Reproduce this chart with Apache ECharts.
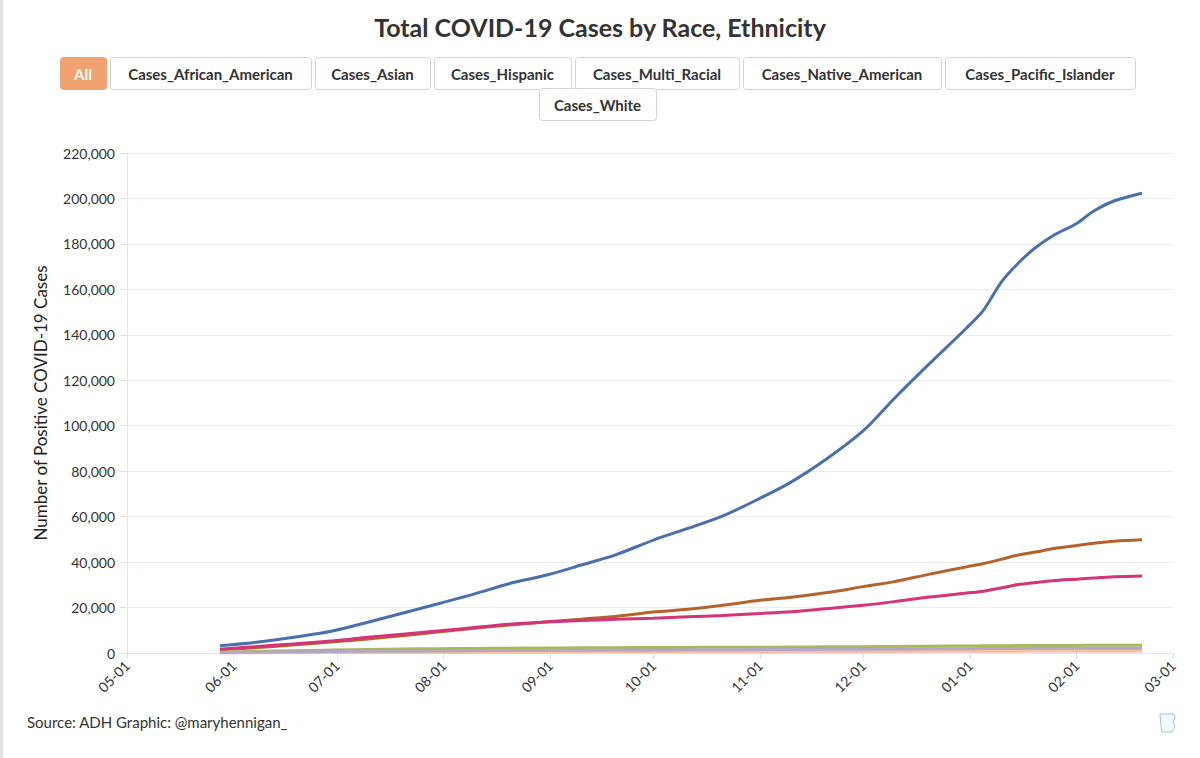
<!DOCTYPE html>
<html>
<head>
<meta charset="utf-8">
<script src="https://cdn.jsdelivr.net/npm/echarts@6/dist/echarts.min.js"></script>
<style>
  html, body { margin: 0; padding: 0; background: #fff; }
  #chart { width: 1200px; height: 758px; }
</style>
</head>
<body>
<div id="chart"></div>
<script>
// dates the values were read at
var dates = ['2020-05-28', '2020-06-07', '2020-06-18', '2020-06-30', '2020-07-10', '2020-07-20', '2020-07-31',
  '2020-08-10', '2020-08-20', '2020-08-31', '2020-09-10', '2020-09-20', '2020-10-01', '2020-10-11',
  '2020-10-21', '2020-11-01', '2020-11-10', '2020-11-20', '2020-12-01', '2020-12-10', '2020-12-20',
  '2020-12-31', '2021-01-05', '2021-01-10', '2021-01-15', '2021-01-20', '2021-01-25', '2021-02-01',
  '2021-02-06', '2021-02-12', '2021-02-20'];

var categories = ['Cases_African_American', 'Cases_Asian', 'Cases_Hispanic', 'Cases_Multi_Racial',
  'Cases_Native_American', 'Cases_Pacific_Islander', 'Cases_White'];

var africanAmerican = [1400, 2300, 3500, 4900, 6200, 7600, 9300, 10900, 12300, 13700, 14900, 16100, 18000, 19200,
  21000, 23200, 24500, 26500, 29200, 31400, 34600, 37900, 39400, 41200, 43100, 44400, 45900, 47300, 48300, 49200, 49800];
var asian = [400, 700, 1000, 1300, 1550, 1750, 1900, 2000, 2100, 2200, 2300, 2350, 2400, 2450,
  2500, 2550, 2600, 2700, 2800, 2900, 3000, 3100, 3150, 3200, 3250, 3300, 3320, 3350, 3370, 3390, 3400];
var hispanic = [1700, 2800, 4000, 5400, 6900, 8300, 9800, 11200, 12600, 13600, 14300, 14800, 15300, 15900,
  16500, 17400, 18200, 19500, 21000, 22600, 24600, 26400, 27200, 28600, 30100, 31000, 31800, 32500, 33000, 33500, 33900];
var multiRacial = [50, 100, 150, 200, 250, 300, 350, 400, 430, 460, 490, 510, 530, 550,
  570, 590, 610, 640, 670, 700, 730, 760, 780, 800, 820, 840, 850, 870, 880, 890, 900];
var nativeAmerican = [100, 150, 220, 300, 380, 450, 520, 580, 630, 680, 720, 760, 800, 830,
  860, 890, 920, 950, 980, 1010, 1040, 1070, 1090, 1110, 1130, 1140, 1150, 1160, 1170, 1180, 1200];
var pacificIslander = [200, 350, 500, 650, 780, 880, 950, 1020, 1080, 1150, 1220, 1280, 1340, 1400,
  1450, 1500, 1550, 1600, 1680, 1750, 1820, 1900, 1940, 1980, 2010, 2040, 2060, 2080, 2090, 2100, 2100];
var white = [3200, 4600, 6800, 9800, 13500, 17500, 21900, 26000, 30500, 34300, 38700, 43200, 49700, 54800,
  60200, 68100, 75200, 85000, 97800, 112000, 127000, 143000, 151000, 163000, 171500, 178300, 183500, 189000,
  194500, 199000, 202300];

var seriesValues = [africanAmerican, asian, hispanic, multiRacial, nativeAmerican, pacificIslander, white];
var seriesColors = ['#b5632a', '#a9b85a', '#d6347a', '#f0b4b4', '#f5c594', '#b3a6c8', '#4a6fad'];

var yTicks = [0, 20000, 40000, 60000, 80000, 100000, 120000, 140000, 160000, 180000, 200000, 220000];

// filter buttons (screen boxes)
var buttonLabels = ['All'].concat(categories);
var buttonBoxes = [
  [60, 57, 46, 32], [110, 57, 201, 32], [315, 57, 115, 32], [434, 57, 137, 32],
  [575, 57, 164, 32], [743, 57, 198, 32], [945, 57, 190, 32], [539, 88, 117, 32]
];

var font = 'Lato, "Open Sans", sans-serif';

var graphics = [
  { type: 'rect', left: 0, top: 0, shape: { width: 3, height: 758 }, style: { fill: '#e2e2e2' } },
  // small state logo, bottom right
  {
    type: 'polyline',
    shape: { points: [[1160, 714], [1174, 714], [1175, 718], [1173, 722], [1175, 726], [1172, 732], [1162, 732], [1161, 726], [1160, 714]] },
    style: { stroke: '#9cc6d8', fill: '#f4f9fb', lineWidth: 1 }
  }
];
buttonLabels.forEach(function (label, i) {
  var b = buttonBoxes[i];
  var active = i === 0;
  graphics.push({
    type: 'rect',
    shape: { x: b[0] + 0.5, y: b[1] + 0.5, width: b[2], height: b[3], r: 3 },
    style: { fill: active ? '#f0a271' : '#fff', stroke: active ? '#f0a271' : '#d4d4d4', lineWidth: 1 },
    z: 10
  });
  graphics.push({
    type: 'text',
    x: b[0] + b[2] / 2,
    y: b[1] + b[3] / 2 + 1,
    style: {
      text: label, fill: active ? '#fff' : '#333', font: 'bold 15px ' + font,
      textAlign: 'center', textVerticalAlign: 'middle'
    },
    z: 11
  });
});

var chart = echarts.init(document.getElementById('chart'), null, { renderer: 'svg' });

var option = {
  animation: false,
  textStyle: { fontFamily: font },
  title: {
    text: 'Total COVID-19 Cases by Race, Ethnicity',
    left: 'center',
    top: 9,
    textStyle: { fontFamily: font, fontSize: 25, fontWeight: 'bold', color: '#333' }
  },
  graphic: graphics.concat([{
    type: 'text', left: 27, top: 714,
    style: { text: 'Source: ADH Graphic: @maryhennigan_', font: '15px ' + font, fill: '#333' }
  }]),
  grid: { left: 127, right: 27, top: 153, bottom: 105 },
  xAxis: {
    type: 'time',
    min: '2020-05-01',
    max: '2021-03-01',
    splitNumber: 10,
    axisLine: { lineStyle: { color: '#e6e6e6' } },
    axisTick: { show: true, lineStyle: { color: '#e0e0e0' }, length: 6 },
    splitLine: { show: false },
    axisLabel: {
      rotate: 45, color: '#333', fontSize: 14, fontFamily: font, margin: 10,
      showMinLabel: true, showMaxLabel: true,
      formatter: function (v) { return echarts.time.format(v, '{MM}-{dd}', false); }
    }
  },
  yAxis: {
    type: 'value',
    min: yTicks[0],
    max: yTicks[yTicks.length - 1],
    interval: yTicks[1] - yTicks[0],
    name: 'Number of Positive COVID-19 Cases',
    nameLocation: 'middle',
    nameGap: 78,
    nameTextStyle: { color: '#222', fontSize: 17, fontFamily: font },
    axisLine: { show: true, lineStyle: { color: '#e6e6e6' } },
    axisTick: { show: true, lineStyle: { color: '#e0e0e0' }, length: 7 },
    splitLine: { lineStyle: { color: '#ececec' } },
    axisLabel: {
      color: '#333', fontSize: 14, fontFamily: font, margin: 12,
      formatter: function (v) { return v.toLocaleString('en-US'); }
    }
  },
  series: categories.map(function (name, i) {
    return {
      name: name,
      type: 'line',
      showSymbol: false,
      smooth: 0.3,
      color: seriesColors[i],
      lineStyle: { width: 3, color: seriesColors[i] },
      data: dates.map(function (d, j) { return [d, seriesValues[i][j]]; })
    };
  })
};

chart.setOption(option);
</script>
</body>
</html>
